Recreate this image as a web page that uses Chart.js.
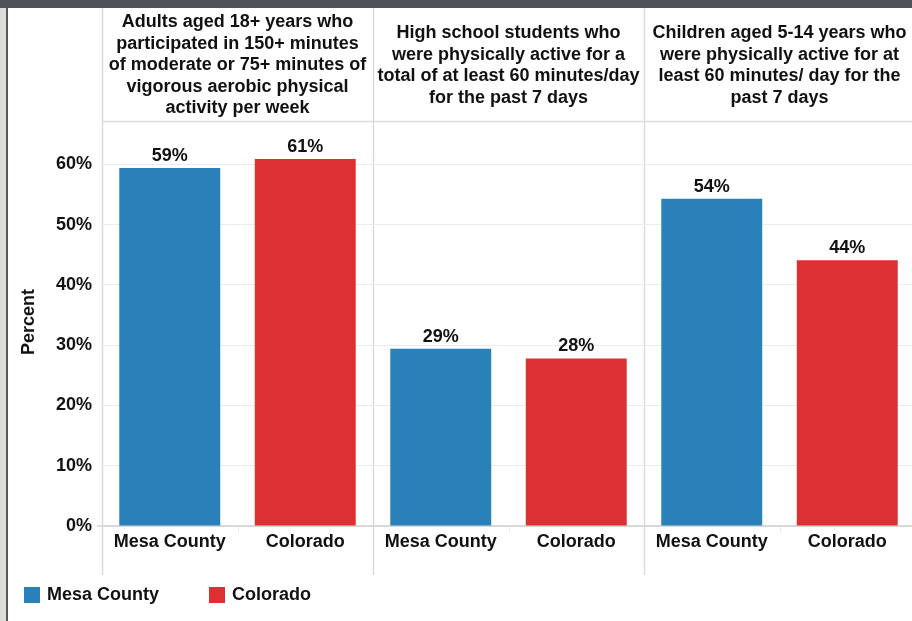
<!DOCTYPE html>
<html>
<head>
<meta charset="utf-8">
<script src="https://cdn.jsdelivr.net/npm/chart.js@4"></script>
<style>
  html, body { margin: 0; padding: 0; background: #fff; overflow: hidden; }
  canvas { display: block; }
</style>
</head>
<body>
<canvas id="chart" width="916" height="621"></canvas>
<script>
const categories = ["Mesa County", "Colorado", "Mesa County", "Colorado", "Mesa County", "Colorado"];
const panelTitles = [
  ["Adults aged 18+ years who", "participated in 150+ minutes", "of moderate or 75+ minutes of", "vigorous aerobic physical", "activity per week"],
  ["High school students who", "were physically active for a", "total of at least 60 minutes/day", "for the past 7 days"],
  ["Children aged 5-14 years who", "were physically active for at", "least 60 minutes/ day for the", "past 7 days"]
];
const mesaValues = [59.4, 29.4, 54.3];
const coloradoValues = [60.9, 27.8, 44.1];
const yTicks = [0, 10, 20, 30, 40, 50, 60];
const seriesNames = ["Mesa County", "Colorado"];

const BLUE = "#2a80b9";
const RED = "#dc3032";
const FONT = '"Liberation Sans", Arial, sans-serif';

// spread each series onto its own slots so one category axis holds all 3 panels
const mesaData = [], coloradoData = [];
mesaValues.forEach((v, i) => {
  mesaData.push(v, null);
  coloradoData.push(null, coloradoValues[i]);
});

const frame = {
  id: "frame",
  beforeDraw(chart) {
    const ctx = chart.ctx, a = chart.chartArea;
    const slot = a.width / categories.length;
    ctx.save();
    ctx.fillStyle = "#fff";
    ctx.fillRect(0, 0, chart.width, chart.height);
    // window chrome: grey strip left, dark bar on top
    ctx.fillStyle = "#dcdcd8";
    ctx.fillRect(0, 0, 6, chart.height);
    ctx.fillStyle = "#55585d";
    ctx.fillRect(6, 0, 2, chart.height);
    ctx.fillStyle = "#4e5259";
    ctx.fillRect(0, 0, chart.width, 8);

    // panel dividers
    ctx.strokeStyle = "#dadada";
    ctx.lineWidth = 1.5;
    for (let p = 0; p < panelTitles.length; p++) {
      const x = Math.round(a.left + p * 2 * slot) + 0.5;
      ctx.beginPath();
      ctx.moveTo(x, 8);
      ctx.lineTo(x, a.bottom + 49);
      ctx.stroke();
    }
    // header bottom line
    ctx.beginPath();
    ctx.moveTo(a.left, a.top + 0.5);
    ctx.lineTo(chart.width, a.top + 0.5);
    ctx.stroke();
    // small separators between categories inside a panel
    ctx.strokeStyle = "#ececec";
    ctx.lineWidth = 1;
    for (let p = 0; p < panelTitles.length; p++) {
      const x = Math.round(a.left + (2 * p + 1) * slot) + 0.5;
      ctx.beginPath();
      ctx.moveTo(x, a.bottom);
      ctx.lineTo(x, a.bottom + 7);
      ctx.stroke();
    }
    ctx.restore();
  },
  beforeDatasetsDraw(chart) {
    const ctx = chart.ctx, a = chart.chartArea;
    ctx.save();
    ctx.strokeStyle = "#cfcfcf";
    ctx.lineWidth = 1.5;
    ctx.beginPath();
    ctx.moveTo(97, a.bottom);
    ctx.lineTo(chart.width, a.bottom);
    ctx.stroke();
    ctx.restore();
  },
  afterDatasetsDraw(chart) {
    const ctx = chart.ctx;
    ctx.save();
    ctx.fillStyle = "#111";
    ctx.font = "bold 18px " + FONT;
    ctx.textAlign = "center";
    ctx.textBaseline = "bottom";
    chart.data.datasets.forEach((ds, di) => {
      chart.getDatasetMeta(di).data.forEach((bar, i) => {
        const v = ds.data[i];
        if (v == null) return;
        ctx.fillText(Math.round(v) + "%", bar.x, bar.y - 3);
      });
    });
    ctx.restore();
  },
  afterDraw(chart) {
    const ctx = chart.ctx, a = chart.chartArea;
    const slot = a.width / categories.length;
    ctx.save();
    ctx.fillStyle = "#111";
    ctx.font = "bold 18px " + FONT;
    ctx.textAlign = "center";
    ctx.textBaseline = "middle";
    // panel headers
    const mid = (8 + a.top) / 2;
    panelTitles.forEach((lines, p) => {
      const cx = a.left + (2 * p + 1) * slot;
      lines.forEach((t, i) => {
        ctx.fillText(t, cx, mid + (i - (lines.length - 1) / 2) * 21.5 + 1);
      });
    });
    // axis title
    ctx.save();
    ctx.translate(29, 322);
    ctx.rotate(-Math.PI / 2);
    ctx.fillText("Percent", 0, 0);
    ctx.restore();
    // legend
    ctx.textAlign = "left";
    const legendX = [24, 209];
    chart.data.datasets.forEach((ds, i) => {
      ctx.fillStyle = ds.backgroundColor;
      ctx.fillRect(legendX[i], 587, 16, 16);
      ctx.fillStyle = "#111";
      ctx.fillText(ds.label, legendX[i] + 23, 595);
    });
    ctx.restore();
  }
};

new Chart(document.getElementById("chart"), {
  type: "bar",
  data: {
    labels: categories,
    datasets: [
      { label: seriesNames[0], data: mesaData, backgroundColor: BLUE },
      { label: seriesNames[1], data: coloradoData, backgroundColor: RED }
    ]
  },
  options: {
    responsive: false,
    animation: false,
    layout: { padding: { left: 8, top: 121, right: 1, bottom: 46 } },
    datasets: { bar: { grouped: false, categoryPercentage: 1, barPercentage: 0.745 } },
    plugins: { legend: { display: false }, tooltip: { enabled: false } },
    scales: {
      x: {
        grid: { display: false, drawTicks: false },
        border: { display: false },
        ticks: { color: "#111", font: { family: FONT, size: 18, weight: "bold" }, padding: 5, maxRotation: 0, autoSkip: false },
        afterFit: (s) => { s.height = 49; }
      },
      y: {
        min: 0,
        max: 67.2,
        afterBuildTicks: (s) => { s.ticks = yTicks.map((v) => ({ value: v })); },
        grid: { color: "#ececec", drawTicks: false },
        border: { display: false },
        ticks: { color: "#111", font: { family: FONT, size: 18, weight: "bold" }, padding: 10, callback: (v) => v + "%" },
        afterFit: (s) => { s.width = 94; }
      }
    }
  },
  plugins: [frame]
});
</script>
</body>
</html>
